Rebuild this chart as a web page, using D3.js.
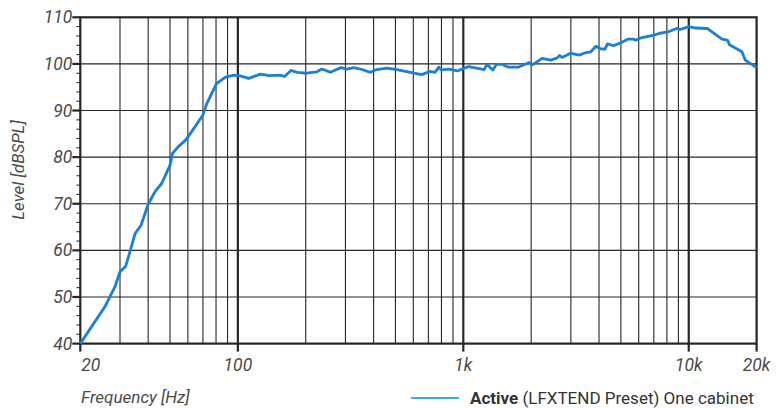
<!DOCTYPE html>
<html><head><meta charset="utf-8">
<script src="https://cdn.jsdelivr.net/npm/d3@7"></script>
<style>
body{margin:0;background:#fff;}
text{font-family:Roboto,"Liberation Sans",sans-serif;}
</style></head>
<body><svg id="c" width="779" height="408"></svg>
<script>
const freqs = [20,25.7,28.5,30,31.8,33.2,35,37.2,40,42.9,46,50,51.3,54.3,58.8,64.5,69.9,72.8,80.5,87.9,95.6,101.6,111.6,125.7,138,154,161,172,183.5,202,224,236,257,287,305,327,355,387,407,457,506,582,654,712,749,779,800,862,943,1006,1057,1238,1273,1352,1404,1487,1588,1753,1958,2024,2238,2440,2610,2670,2745,2988,3260,3490,3680,3874,4046,4245,4360,4640,4920,5368,5700,5830,6130,7024,7510,8130,8830,9200,10030,10740,12070,14040,14850,15160,17220,17810,20000];
const levels = [40,47.9,52.2,55.4,56.6,59.7,63.6,65.4,69.9,72.6,74.4,78.3,80.8,82.2,83.7,86.5,89.0,91.5,95.8,97.1,97.6,97.5,96.9,97.8,97.5,97.6,97.3,98.6,98.2,98.0,98.3,98.9,98.2,99.2,98.9,99.2,98.8,98.2,98.7,99.1,98.8,98.2,97.7,98.4,98.2,99.3,98.7,98.9,98.5,99.1,99.4,98.8,99.9,98.7,99.9,99.9,99.3,99.3,100.3,99.8,101.2,100.8,101.3,101.8,101.4,102.3,101.9,102.4,102.6,103.8,103.3,103.1,104.3,103.9,104.4,105.3,105.3,105.1,105.6,106.2,106.6,106.9,107.6,107.4,108.0,107.7,107.6,105.3,105.1,104.1,102.6,100.8,99.2];
const xTickVals = [20,100,1000,10000,20000];
const xTickLabels = ["20","100","1k","10k","20k"];
const yTickVals = [40,50,60,70,80,90,100,110];
const xGridVals = [30,40,50,60,70,80,90,200,300,400,500,600,700,800,900,2000,3000,4000,5000,6000,7000,8000,9000];
const decadeVals = [100,1000,10000];
const seriesName = ["Active", " (LFXTEND Preset) One cabinet"];

const svg = d3.select("#c");
const x = d3.scaleLog().domain([20,20000]).range([80.3,756.6]);
const y = d3.scaleLinear().domain([40,110]).range([343.6,17.3]);
const dark = "#262626";
const txt = "#4a4a4a";

svg.append("g").selectAll("line").data(yTickVals.filter(v=>v>40&&v<110)).join("line")
  .attr("x1",x(20)).attr("x2",x(20000)).attr("y1",d=>y(d)).attr("y2",d=>y(d))
  .attr("stroke",dark).attr("stroke-width",1.1);
svg.append("g").selectAll("line").data(xGridVals).join("line")
  .attr("x1",d=>x(d)).attr("x2",d=>x(d)).attr("y1",y(110)).attr("y2",y(40))
  .attr("stroke",dark).attr("stroke-width",1.1);
svg.append("g").selectAll("line").data(decadeVals).join("line")
  .attr("x1",d=>x(d)).attr("x2",d=>x(d)).attr("y1",y(110)).attr("y2",y(40))
  .attr("stroke",dark).attr("stroke-width",2.2);

svg.append("rect").attr("x",x(20)).attr("y",y(110)).attr("width",x(20000)-x(20)).attr("height",y(40)-y(110))
  .attr("fill","none").attr("stroke",dark).attr("stroke-width",2.2);

svg.append("g").selectAll("line").data(d3.range(42,110,2).filter(v=>v%10!==0)).join("line")
  .attr("x1",x(20)-4).attr("x2",x(20)).attr("y1",d=>y(d)).attr("y2",d=>y(d))
  .attr("stroke",dark).attr("stroke-width",1);
svg.append("g").selectAll("line").data(yTickVals).join("line")
  .attr("x1",x(20)-8).attr("x2",x(20)).attr("y1",d=>y(d)).attr("y2",d=>y(d))
  .attr("stroke",dark).attr("stroke-width",2.2);
svg.append("g").selectAll("line").data(xTickVals).join("line")
  .attr("x1",d=>x(d)).attr("x2",d=>x(d)).attr("y1",y(40)).attr("y2",y(40)+8)
  .attr("stroke",dark).attr("stroke-width",2.2);

svg.append("g").selectAll("text").data(yTickVals).join("text")
  .attr("x",x(20)-8).attr("y",d=>y(d)+6).attr("text-anchor","end")
  .attr("font-size",17.5).attr("font-style","italic").attr("fill",txt).text(d=>d);
svg.append("g").selectAll("text").data(xTickVals).join("text")
  .attr("x",(d,i)=>i===0?x(d)+1:x(d)).attr("y",371)
  .attr("text-anchor",(d,i)=>i===0?"start":"middle")
  .attr("font-size",17.5).attr("font-style","italic").attr("fill",txt).text((d,i)=>xTickLabels[i]);

svg.append("text").attr("transform","translate(24,170) rotate(-90)").attr("text-anchor","middle")
  .attr("font-size",17).attr("font-style","italic").attr("fill",txt).text("Level [dBSPL]");
svg.append("text").attr("x",81).attr("y",403).attr("font-size",17).attr("font-style","italic")
  .attr("fill",txt).text("Frequency [Hz]");

const pts = freqs.map((f,i)=>[f,levels[i]]);
svg.append("path").datum(pts)
  .attr("d",d3.line().x(d=>x(d[0])).y(d=>y(d[1])))
  .attr("fill","none").attr("stroke","#1a7fd6").attr("stroke-width",2.8).attr("stroke-linejoin","round");

svg.append("line").attr("x1",411).attr("x2",459).attr("y1",398).attr("y2",398)
  .attr("stroke","#3aaae2").attr("stroke-width",2.2);
const lt = svg.append("text").attr("x",470).attr("y",404).attr("font-size",17).attr("fill","#333");
lt.append("tspan").attr("font-weight","bold").text(seriesName[0]);
lt.append("tspan").text(seriesName[1]);
</script></body></html>
